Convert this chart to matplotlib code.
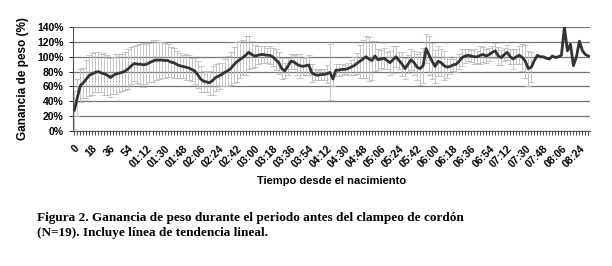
import matplotlib
matplotlib.use('Agg')
import matplotlib.pyplot as plt
import numpy as np

# minutes after birth, one sample every 3 minutes
minutes = np.arange(0, 514, 3)

# weight gain (%)
gain = [28, 45, 61, 65, 70, 75, 77, 79, 80, 78, 77, 75, 72, 75, 77, 78, 79, 81, 84, 88,
        91, 90, 90, 89, 90, 92, 94, 95.5, 95.5, 95.5, 95, 95, 93, 92, 90, 88, 87, 86, 85, 83,
        81, 76, 70, 67, 66, 65, 68, 72, 74, 76, 79, 81, 84, 89, 93, 96, 99, 102, 106, 103,
        101, 102, 103, 103, 102, 102, 100, 96, 92, 84, 81, 87, 94, 93, 90, 88, 87, 88, 89, 78,
        76, 75, 76, 76, 77, 79, 70, 82, 82, 83, 83, 84, 86, 88, 91, 94, 97, 100, 97, 95,
        101, 96, 97, 98, 95, 92, 96, 100, 95, 90, 84, 90, 96, 92, 86, 84, 88, 111, 102, 94,
        87, 94, 92, 88, 86, 87, 89, 90, 94, 99, 101, 102, 101, 100, 100, 102, 103, 101, 103, 106,
        108, 101, 99, 103, 106, 100, 97, 100, 102, 99, 94, 84, 86, 95, 102, 100, 100, 98, 97, 101,
        99, 100, 102, 140, 108, 117, 88, 100, 121, 108, 103, 101]

# standard deviation (error bars), 0 = no bar
sd = [26, 25, 22, 20, 26, 28, 28, 27, 27, 26, 28, 27, 26, 25, 27, 26, 25, 26, 27, 25,
      24, 26, 27, 30, 27, 26, 28, 27, 25, 24, 24, 22, 20, 20, 18, 17, 16, 18, 17, 16,
      18, 18, 17, 14, 13, 16, 20, 18, 17, 16, 18, 20, 22, 24, 27, 25, 24, 26, 22, 18,
      15, 12, 12, 11, 10, 12, 12, 14, 15, 14, 10, 12, 10, 10, 14, 16, 12, 12, 14, 12,
      8, 7, 8, 7, 12, 38, 10, 8, 8, 7, 6, 8, 10, 12, 14, 22, 25, 28, 30, 26,
      20, 14, 12, 14, 12, 16, 18, 14, 12, 16, 14, 12, 14, 16, 18, 22, 24, 20, 26, 24,
      22, 20, 18, 20, 14, 10, 8, 10, 10, 12, 10, 8, 8, 10, 8, 12, 10, 10, 9, 8,
      10, 12, 10, 9, 10, 10, 14, 10, 12, 18, 22, 24, 20, 0, 0, 0, 0, 0, 0, 0,
      0, 0, 0, 0, 0, 0, 0, 0, 0, 0, 0, 0]


def fmt_time(m):
    if m < 60:
        return str(m)
    return f'{m // 60:02d}:{m % 60:02d}'


plt.rcParams['font.family'] = ['Liberation Sans', 'DejaVu Sans']

fig = plt.figure(figsize=(6.12, 2.66), dpi=100)
ax = fig.add_axes([0.119, 0.508, 0.845, 0.39])

x = np.arange(len(minutes))
sd_arr = np.array(sd, dtype=float)
mask = sd_arr > 0
ax.errorbar(x[mask], np.array(gain)[mask], yerr=sd_arr[mask], fmt='none',
            ecolor='#bcbcbc', elinewidth=0.6, capsize=2, capthick=0.6, zorder=2)
ax.plot(x, gain, color='#333333', lw=2.0, zorder=3)

ax.set_ylim(0, 140)
ax.set_yticks(np.arange(0, 141, 20))
ax.set_yticklabels([f'{v}%' for v in range(0, 141, 20)])
ax.set_xlim(-0.5, len(x) - 0.5)
ax.yaxis.grid(True, color='#777777', lw=0.9)
ax.set_axisbelow(True)

label_idx = [i for i, m in enumerate(minutes) if m % 18 == 0]
ax.set_xticks(x, minor=True)
ax.set_xticks(label_idx)
ax.set_xticklabels([fmt_time(minutes[i]) for i in label_idx], rotation=45,
                   ha='right', rotation_mode='anchor', fontsize=7.5, fontweight='bold')
ax.tick_params(axis='x', which='both', length=3, width=0.5, direction='out', pad=6)
ax.tick_params(axis='y', length=3, width=0.6, labelsize=7.5)
for lab in ax.get_yticklabels():
    lab.set_fontweight('bold')

for s in ['top', 'right']:
    ax.spines[s].set_visible(False)
ax.spines['left'].set_color('#555555')
ax.spines['bottom'].set_color('#555555')

ax.set_ylabel('Ganancia de peso (%)', fontsize=8.5, fontweight='bold', labelpad=6)
ax.set_xlabel('Tiempo desde el nacimiento', fontsize=8, fontweight='bold', labelpad=5)

fig.text(0.06, 0.152, 'Figura 2. Ganancia de peso durante el periodo antes del clampeo de cordón\n'
         '(N=19). Incluye línea de tendencia lineal.', family='Liberation Serif',
         fontweight='bold', fontsize=9.5, linespacing=1.25, va='center')

fig.savefig('out.png', dpi=100)
